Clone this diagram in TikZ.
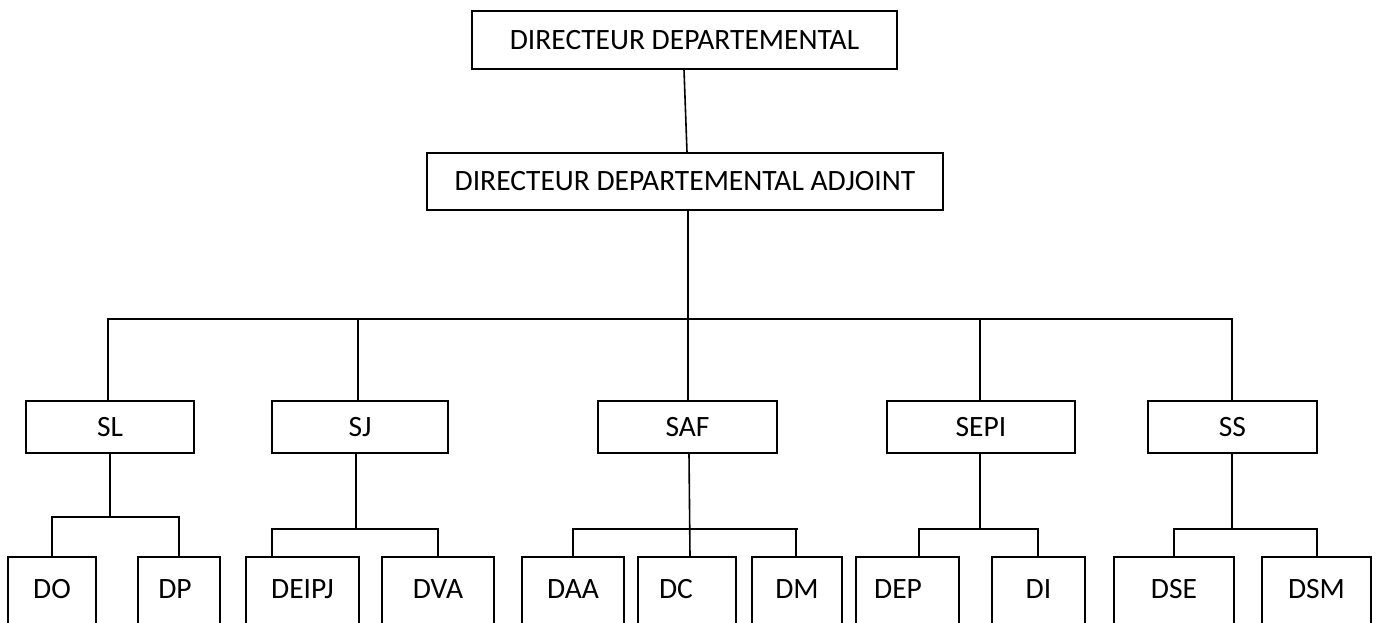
\documentclass[tikz,border=0pt]{standalone}
\usepackage{fontspec}
\setmainfont{Carlito}
\begin{document}
\begin{tikzpicture}[x=1pt,y=-1pt,
  box/.style={draw=black,line width=1.6pt,fill=white,inner sep=0pt,minimum height=#1,font=\fontsize{29.5pt}{35pt}\selectfont},
  box/.default=52pt,
  low/.style={box=70pt},
  link/.style={draw=black,line width=1.6pt}]
\useasboundingbox (0,0) rectangle (1379,622);
\clip (0,0) rectangle (1379,622);
% top levels
\node[box=58pt,minimum width=425pt] (DD) at (684.5,40) {DIRECTEUR DEPARTEMENTAL};
\node[box=57pt,minimum width=516pt] (DDA) at (685,181.5) {DIRECTEUR DEPARTEMENTAL ADJOINT};
% services
\node[box,minimum width=168pt] (SL) at (110,427) {SL};
\node[box,minimum width=176pt] (SJ) at (360,427) {SJ};
\node[box,minimum width=179pt] (SAF) at (687.5,427) {SAF};
\node[box,minimum width=188pt] (SEPI) at (981,427) {SEPI};
\node[box,minimum width=169pt] (SS) at (1232.5,427) {SS};
% divisions (bottoms cut by the page edge)
\node[low,minimum width=88pt] (DO) at (52,592) {\raisebox{6pt}{DO}};
\node[low,minimum width=82pt] (DP) at (179,592) {\raisebox{6pt}{DP\hspace{8pt}}};
\node[low,minimum width=113pt] (DEIPJ) at (302.5,592) {\raisebox{6pt}{DEIPJ}};
\node[low,minimum width=112pt] (DVA) at (438,592) {\raisebox{6pt}{DVA}};
\node[low,minimum width=102pt] (DAA) at (573,592) {\raisebox{6pt}{DAA}};
\node[low,minimum width=98pt] (DC) at (687,592) {\raisebox{6pt}{DC\hspace{22pt}}};
\node[low,minimum width=90pt] (DM) at (797,592) {\raisebox{6pt}{DM}};
\node[low,minimum width=103pt] (DEP) at (907.5,592) {\raisebox{6pt}{DEP\hspace{19pt}}};
\node[low,minimum width=93pt] (DI) at (1038.5,592) {\raisebox{6pt}{DI}};
\node[low,minimum width=120pt] (DSE) at (1174,592) {\raisebox{6pt}{DSE}};
\node[low,minimum width=109pt] (DSM) at (1316.5,592) {\raisebox{6pt}{DSM}};
% bus levels
\coordinate (b1) at (0,319);
\coordinate (bSL) at (0,517);
\coordinate (b2) at (0,529);
% top connectors
\draw[link] ([xshift=-0.5pt]DD.south) -- ([xshift=2pt]DDA.north);
\draw[link] ([xshift=3pt]DDA.south) -- ([xshift=3pt]DDA.south |- b1);
\draw[link] ([xshift=-2pt]SL.north) |- ([xshift=-0.5pt]SS.north |- b1) -- ([xshift=-0.5pt]SS.north);
\draw[link] ([xshift=-2pt]SJ.north) -- ([xshift=-2pt]SJ.north |- b1);
\draw[link] ([xshift=0.5pt]SAF.north) -- ([xshift=0.5pt]SAF.north |- b1);
\draw[link] ([xshift=-1pt]SEPI.north) -- ([xshift=-1pt]SEPI.north |- b1);
% SL
\draw[link] (SL.south) -- (SL.south |- bSL);
\draw[link] (DO.north) |- (DP.north |- bSL) -- (DP.north);
% SJ
\draw[link] ([xshift=-4pt]SJ.south) -- ([xshift=-4pt]SJ.south |- b2);
\draw[link] ([xshift=-30.5pt]DEIPJ.north) |- (DVA.north |- b2) -- (DVA.north);
% SAF
\draw[link] ([xshift=1.5pt]SAF.south) -- ([xshift=3pt]DC.north);
\draw[link] (DAA.north) |- ([xshift=1pt]DM.north |- b2);
\draw[link] ([xshift=-1pt]DM.north |- b2) -- ([xshift=-1pt]DM.north);
% SEPI
\draw[link] ([xshift=-1pt]SEPI.south) -- ([xshift=-1pt]SEPI.south |- b2);
\draw[link] ([xshift=11.5pt]DEP.north) |- ([xshift=-0.5pt]DI.north |- b2) -- ([xshift=-0.5pt]DI.north);
% SS
\draw[link] ([xshift=-0.5pt]SS.south) -- ([xshift=-0.5pt]SS.south |- b2);
\draw[link] (DSE.north) |- ([xshift=0.5pt]DSM.north |- b2) -- ([xshift=0.5pt]DSM.north);
\end{tikzpicture}
\end{document}
